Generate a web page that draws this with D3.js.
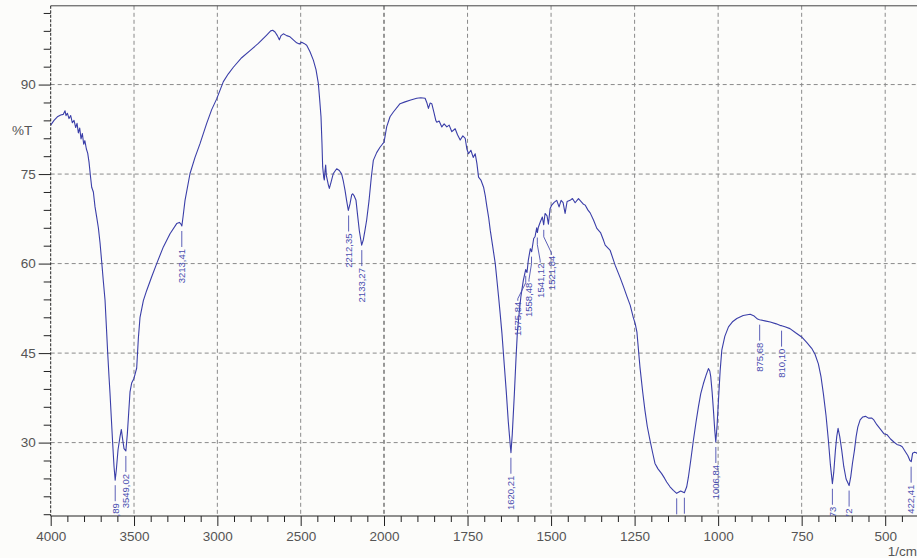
<!DOCTYPE html>
<html>
<head>
<meta charset="utf-8">
<script src="https://cdn.jsdelivr.net/npm/d3@7"></script>
<style>
  html, body { margin: 0; padding: 0; background: #fcfcfa; }
  svg { display: block; }
  text { font-family: "Liberation Sans", Arial, sans-serif; }
</style>
</head>
<body>
<svg id="chart" width="917" height="558"></svg>
<script>
// ---- data ----
const wavenumbers = [
  4000,3980,3960,3940,3925,3914,3908,3900,3890,3880,3870,3860,3850,3842,3834,3826,3818,3810,3802,3795,3786,3778,3770,3762,3754,3744,3734,3724,3714,3704,3694,3684,3674,3666,3658,3650,3644,3636,3628,3620,3613,3606,3596,3584,3576,3568,3560,3549,3540,3532,3524,3514,3500,3484,3474,3464,3444,3424,3394,3364,3324,3284,3244,3228,3218,3213,3206,3194,3164,3134,3104,3064,3034,3004,2964,2934,2904,2854,2804,2754,2704,2680,2668,2654,2640,2628,2618,2604,2584,2564,2544,2524,2508,2494,2480,2464,2444,2424,2408,2394,2386,2378,2372,2368,2362,2358,2354,2350,2346,2340,2334,2328,2318,2304,2284,2268,2254,2244,2234,2224,2214,2204,2194,2188,2180,2168,2158,2148,2134,2124,2114,2104,2090,2076,2064,2044,2024,2010,2000,
  1992,1982,1972,1952,1937,1920,1902,1890,1877,1872,1867,1862,1857,1850,1845,1842,1835,1827,1820,1812,1805,1797,1787,1780,1772,1764,1757,1752,1747,1740,1733,1727,1722,1717,1710,1702,1697,1692,1687,1682,1675,1667,1662,1657,1652,1647,1640,1634,1628,1622,1620,1616,1610,1605,1601,1595,1590,1583,1576,1572,1568,1562,1558,1552,1548,1543,1541,1538,1532,1526,1522,1518,1512,1508,1503,1498,1490,1483,1476,1470,1464,1458,1452,1443,1436,1428,1418,1410,1404,1398,1390,1383,1373,1363,1352,1343,1338,1323,1308,1293,1283,1273,1263,1254,1248,1243,1234,1226,1219,1212,1204,1196,1189,1180,1169,1160,1154,1144,1134,1124,1112,1101,1094,1089,1082,1074,1066,1059,1052,1044,1036,1029,1025,1022,1018,1014,1010,1007,1003,999,994,989,980,969,956,944,925,904,892,882,876,860,844,826,812,810,800,785,768,750,735,720,710,700,692,685,677,670,664,658,654,649,645,641,636,630,624,617,608,603,598,592,587,582,575,567,559,550,540,534,525,515,504,494,484,474,465,455,449,440,432,426,422,418,412,407,400
];
const transmittance = [
  83.2,84.0,84.6,84.9,85.0,85.6,84.8,85.2,84.3,84.8,83.6,84.0,82.8,83.5,81.9,82.7,80.9,81.8,80.0,80.6,79.2,78.5,77.0,74.8,72.8,72.0,69.5,67.8,66.0,63.5,60.3,57.0,53.9,49.5,45.0,41.0,38.2,34.0,29.8,26.0,23.7,25.5,28.8,31.0,32.2,30.5,29.0,28.6,31.5,35.0,38.5,40.0,40.8,42.5,47.5,51.0,53.8,55.5,57.8,60.0,62.8,65.0,66.7,66.9,66.6,66.3,67.8,70.6,75.1,77.8,80.1,83.5,85.8,87.6,90.5,91.8,92.9,94.5,95.7,96.9,98.3,99.0,99.1,98.8,98.2,97.5,98.2,98.5,98.2,98.0,97.5,97.0,96.8,97.1,96.9,96.6,95.5,94.1,92.5,90.2,87.5,84.6,80.0,76.2,74.5,74.0,75.5,76.5,74.8,74.0,73.2,72.6,73.6,75.1,75.9,75.6,75.0,73.8,72.3,70.5,68.9,70.0,71.5,71.7,71.4,70.6,68.0,65.5,63.1,64.0,65.6,67.3,70.5,74.5,77.3,78.6,79.5,80.0,80.3,
  82.9,84.6,85.4,86.8,87.1,87.4,87.7,87.8,87.7,87.0,86.0,86.9,86.8,85.2,84.0,83.7,83.9,82.9,83.4,82.9,83.2,82.1,82.6,81.6,80.7,81.4,81.0,79.2,78.4,79.0,77.8,78.4,76.8,74.5,74.0,72.8,71.4,69.5,67.8,65.6,63.0,60.0,57.2,54.4,51.4,48.3,43.0,38.5,33.5,29.5,28.3,31.5,38.0,44.0,48.3,52.0,54.6,57.2,59.0,58.5,60.6,62.5,62.0,64.2,64.5,66.0,65.2,66.1,67.0,67.8,66.5,68.4,68.0,66.6,69.2,69.8,70.3,70.6,69.5,70.6,70.2,68.4,70.4,70.6,70.9,70.2,70.9,70.4,70.0,69.8,69.0,68.5,67.3,65.9,65.2,63.9,63.1,62.2,59.7,57.6,56.1,54.5,53.0,51.0,49.9,48.5,42.7,38.6,35.4,32.7,30.4,28.3,26.5,25.6,24.8,24.0,23.4,22.6,22.0,21.5,21.9,21.6,22.6,24.2,27.0,30.4,33.5,36.0,38.2,39.9,41.3,42.4,42.0,41.0,38.5,35.4,32.0,30.1,33.0,37.1,42.0,45.5,47.8,49.4,50.3,50.8,51.3,51.5,51.2,50.7,50.6,50.4,50.2,49.9,49.6,49.6,49.4,49.1,48.4,47.7,46.8,45.8,44.8,43.2,41.0,38.2,34.5,30.4,26.3,23.1,25.0,28.7,31.0,32.4,31.0,28.7,26.0,23.9,22.8,24.3,26.5,28.7,31.0,32.6,33.8,34.3,34.4,34.1,34.1,33.8,33.0,32.3,31.5,31.3,30.6,30.1,29.7,29.5,29.3,28.5,27.8,27.0,26.8,28.2,28.4,28.3,28.0
];

// peak annotations
const peakWn     = [3612.89,3549.02,3213.41,2212.35,2133.27,1620.21,1575.84,1558.48,1541.12,1521.84,1124,1101,1006.84,875.68,810.10,658,608,422.41];
const peakT      = [23.7,28.6,66.3,68.9,63.1,28.3,58.8,62.0,65.2,66.5,21.5,21.6,30.1,50.6,49.6,23.1,22.8,26.8];
const peakLabels = ["3612,89","3549,02","3213,41","2212,35","2133,27","1620,21","1575,84","1558,48","1541,12","1521,84","","","1006,84","875,68","810,10","658,73","608,72","422,41"];

// axis ticks
const xTickLabels = [4000,3500,3000,2500,2000,1750,1500,1250,1000,750,500];
const xGridValues = [3500,3000,2500,2000,1750,1500,1250,1000,750,500];
const yTickLabels = [30,45,60,75,90];

// ---- drawing ----
const svg = d3.select("#chart");
const pLeft = 50.7, pRight = 918.6, pTop = 5.8, pBottom = 516;

const x = d3.scaleLinear().domain([4000, 2000, 400]).range([pLeft, 384, pRight]);
const y = d3.scaleLinear().domain([17.7, 103.2]).range([pBottom, pTop]);

svg.append("defs").append("clipPath").attr("id", "plotClip")
  .append("rect").attr("x", pLeft).attr("y", pTop).attr("width", pRight - pLeft).attr("height", pBottom - pTop);

// grid
const grid = svg.append("g");
grid.selectAll("line.vg").data(xGridValues).join("line")
  .attr("x1", d => x(d)).attr("x2", d => x(d))
  .attr("y1", pTop).attr("y2", pBottom)
  .attr("stroke", d => d === 2000 ? "#333" : "#8a8a8a")
  .attr("stroke-width", 1)
  .attr("stroke-dasharray", "4,3");
grid.selectAll("line.hg").data(yTickLabels).join("line")
  .attr("x1", pLeft).attr("x2", 917)
  .attr("y1", d => y(d)).attr("y2", d => y(d))
  .attr("stroke", "#8a8a8a").attr("stroke-width", 1)
  .attr("stroke-dasharray", "4,3");

// frame
svg.append("line").attr("x1", pLeft).attr("x2", 917).attr("y1", pTop).attr("y2", pTop)
  .attr("stroke", "#444").attr("stroke-width", 1);

// y axis
const minorY = d3.range(18, 103, 3).filter(v => !yTickLabels.includes(v));
const yAxisMajor = d3.axisLeft(y).tickValues(yTickLabels).tickSize(12).tickPadding(3).tickFormat(d3.format("d"));
const yAxisMinor = d3.axisLeft(y).tickValues(minorY).tickSize(7).tickFormat("");
const gyMinor = svg.append("g").attr("transform", `translate(${pLeft},0)`).call(yAxisMinor);
const gy = svg.append("g").attr("transform", `translate(${pLeft},0)`).call(yAxisMajor);
[gy, gyMinor].forEach(g => {
  g.select(".domain").remove();
  g.selectAll(".tick line").attr("stroke", "#222");
});
gy.selectAll("text").attr("fill", "#555").attr("font-size", 13.5);
svg.append("line").attr("x1", pLeft).attr("x2", pLeft).attr("y1", pTop).attr("y2", pBottom)
  .attr("stroke", "#222").attr("stroke-width", 1).attr("stroke-dasharray", "3,1.5");

// x axis
const minorX = d3.range(4000, 2000, -100).concat(d3.range(2000, 399, -50)).filter(v => !xTickLabels.includes(v));
const xAxisMajor = d3.axisBottom(x).tickValues(xTickLabels).tickSize(10).tickPadding(5).tickFormat(d3.format("d"));
const xAxisMinor = d3.axisBottom(x).tickValues(minorX).tickSize(6).tickFormat("");
const gxMinor = svg.append("g").attr("transform", `translate(0,${pBottom})`).call(xAxisMinor);
const gx = svg.append("g").attr("transform", `translate(0,${pBottom})`).call(xAxisMajor);
[gx, gxMinor].forEach(g => {
  g.select(".domain").remove();
  g.selectAll(".tick line").attr("stroke", "#222");
});
gx.selectAll("text").attr("fill", "#555").attr("font-size", 13.5);
svg.append("line").attr("x1", pLeft).attr("x2", 917).attr("y1", pBottom).attr("y2", pBottom)
  .attr("stroke", "#222").attr("stroke-width", 1.2);

// axis titles
svg.append("text").attr("x", 12).attr("y", 135).attr("fill", "#555").attr("font-size", 13.5).text("%T");
svg.append("text").attr("x", 917).attr("y", 556).attr("text-anchor", "end").attr("fill", "#555").attr("font-size", 13.5).text("1/cm");

// spectrum
const n = Math.min(wavenumbers.length, transmittance.length);
const data = d3.range(n).map(i => [wavenumbers[i], transmittance[i]]);
const plot = svg.append("g").attr("clip-path", "url(#plotClip)");
plot.append("path").datum(data)
  .attr("fill", "none").attr("stroke", "#3a3ea8").attr("stroke-width", 1.1)
  .attr("stroke-linejoin", "round")
  .attr("d", d3.line().x(d => x(d[0])).y(d => y(d[1])));

// peak labels, with crowded labels spread sideways (as the instrument software does)
const peaks = peakWn.map((w, i) => ({ w, t: peakT[i], label: peakLabels[i], px: x(peakWn[i]), py: y(peakT[i]) }));
peaks.forEach(p => { p.lx = p.px; });
const labelled = peaks.filter(p => p.label !== "").sort((a, b) => a.px - b.px);
const minGap = 7.5, spreadGap = 11.2;
let cluster = [];
function flush() {
  if (cluster.length > 1) {
    const mean = d3.mean(cluster, p => p.px);
    cluster.forEach((p, i) => { p.lx = mean + (i - (cluster.length - 1) / 2) * spreadGap; });
  }
  cluster = [];
}
labelled.forEach(p => {
  if (cluster.length && p.px - cluster[cluster.length - 1].px >= minGap) flush();
  cluster.push(p);
});
flush();
peaks.forEach(p => {
  p.ty = p.py + 23 + (p.lx !== p.px ? 8 : 0);
});

const pg = plot.append("g");
pg.selectAll("path.pk").data(peaks).join("path")
  .attr("fill", "none")
  .attr("stroke", "#4a4eb0").attr("stroke-width", 0.9)
  .attr("d", d => d.lx === d.px
      ? `M${d.px},${d.py + 5}V${d.ty - 2}`
      : `M${d.px},${d.py + 5}V${d.py + 12}L${d.lx},${d.ty - 3}V${d.ty - 1}`);
pg.selectAll("text.pk").data(peaks).join("text")
  .attr("transform", d => `translate(${d.lx},${d.ty}) rotate(-90)`)
  .attr("text-anchor", "end").attr("dy", "0.35em")
  .attr("fill", "#4a4eb0").attr("font-size", 9.5)
  .text(d => d.label);

if (wavenumbers.length !== transmittance.length) {
  throw new Error("length mismatch " + wavenumbers.length + " vs " + transmittance.length);
}
</script>
</body>
</html>
